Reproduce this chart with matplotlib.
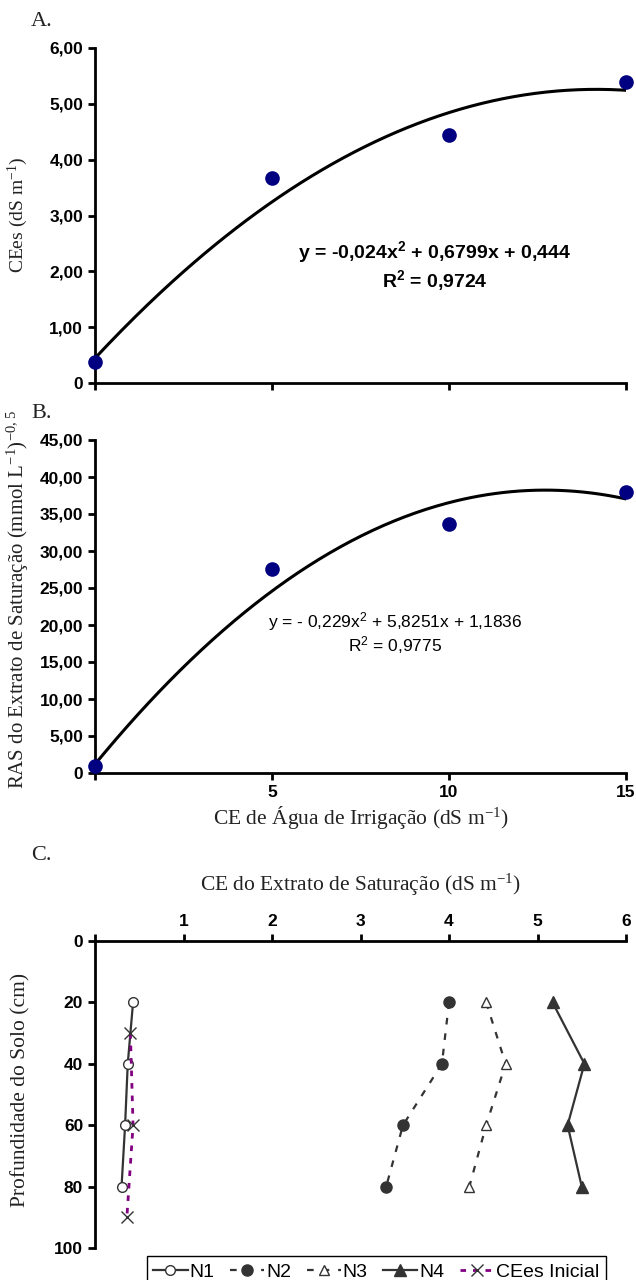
import matplotlib

matplotlib.use("Agg")
import matplotlib.pyplot as plt
import numpy as np

# panel A / B: CE of irrigation water vs soil extract values
ce_agua = [0, 5, 10, 15]
cees = [0.37, 3.68, 4.44, 5.39]
ras = [0.9, 27.6, 33.7, 38.0]
fit_cees = [-0.024, 0.6799, 0.444]
fit_ras = [-0.229, 5.8251, 1.1836]

# panel C: depth profiles
prof = [20, 40, 60, 80]
n1 = [0.43, 0.37, 0.34, 0.30]
n2 = [4.00, 3.92, 3.48, 3.29]
n3 = [4.42, 4.64, 4.42, 4.23]
n4 = [5.17, 5.53, 5.34, 5.50]
prof_ini = [30, 60, 90]
cees_ini = [0.40, 0.43, 0.36]

SANS = "Liberation Sans"
SERIF = "Liberation Serif"
W, H = 636, 1280

plt.rcParams["font.family"] = SANS
plt.rcParams["mathtext.default"] = "regular"


def px(x0, y0, x1, y1):
    return [x0 / W, 1 - y1 / H, (x1 - x0) / W, (y1 - y0) / H]


def style_axes(ax, spines):
    for s in ("left", "right", "top", "bottom"):
        ax.spines[s].set_visible(s in spines)
        ax.spines[s].set_linewidth(2.0)
    ax.tick_params(direction="out", length=5, width=2, labelsize=12.5, pad=3.5)
    for lab in ax.get_xticklabels() + ax.get_yticklabels():
        lab.set_fontweight("bold")


fig = plt.figure(figsize=(W / 100, H / 100), dpi=100)

# ---- A ----
axA = fig.add_axes(px(95, 48, 626, 383))
xs = np.linspace(0, 15, 200)
axA.plot(xs, np.polyval(fit_cees, xs), color="black", lw=2.2)
axA.plot(ce_agua, cees, "o", color="#000080", ms=9.5, clip_on=False, zorder=5)
axA.set_xlim(0, 15)
axA.set_ylim(0, 6)
axA.set_xticks([0, 5, 10, 15], labels=[])
axA.set_yticks(range(7), labels=["0", "1,00", "2,00", "3,00", "4,00", "5,00", "6,00"])
style_axes(axA, ("left", "bottom"))
axA.text(0.64, 0.39, r"y = -0,024x$^{2}$ + 0,6799x + 0,444", transform=axA.transAxes,
         ha="center", va="center", fontsize=14, fontweight="bold")
axA.text(0.64, 0.305, r"R$^{2}$ = 0,9724", transform=axA.transAxes,
         ha="center", va="center", fontsize=14, fontweight="bold")

# ---- B ----
axB = fig.add_axes(px(95, 440, 626, 773))
axB.plot(xs, np.polyval(fit_ras, xs), color="black", lw=2.2)
axB.plot(ce_agua, ras, "o", color="#000080", ms=9.5, clip_on=False, zorder=5)
axB.set_xlim(0, 15)
axB.set_ylim(0, 45)
axB.set_xticks([0, 5, 10, 15], labels=["", "5", "10", "15"])
axB.set_yticks(range(0, 50, 5),
               labels=["0"] + [f"{v},00" for v in range(5, 50, 5)])
style_axes(axB, ("left", "bottom"))
axB.text(0.565, 0.455, r"y = - 0,229x$^{2}$ + 5,8251x + 1,1836", transform=axB.transAxes,
         ha="center", va="center", fontsize=12.5)
axB.text(0.565, 0.385, r"R$^{2}$ = 0,9775", transform=axB.transAxes,
         ha="center", va="center", fontsize=12.5)
axB.set_xlabel(r"CE de Água de Irrigação (dS m$^{-1}$)", family=SERIF, fontsize=15.5,
               color="#222222", labelpad=3)

# ---- C ----
axC = fig.add_axes(px(95, 941, 626, 1248))
dark = "#333333"
axC.plot(n1, prof, "-o", color=dark, mfc="white", mec=dark, ms=7, lw=1.6, label="N1")
axC.plot(n2, prof, "o", ls=(0, (3, 4)), color=dark, ms=8, lw=1.6, label="N2")
axC.plot(n3, prof, "^", ls=(0, (3, 4)), color=dark, mfc="white", mec=dark, ms=7.5,
         lw=1.6, label="N3")
axC.plot(n4, prof, "-^", color=dark, ms=8.5, lw=1.6, label="N4")
axC.plot(cees_ini, prof_ini, "x", ls=(0, (2, 2.5)), color="#800080", mec=dark, ms=8,
         mew=1.0, lw=2.0, label="CEes Inicial")
axC.set_xlim(0, 6)
axC.set_ylim(100, 0)
axC.xaxis.tick_top()
axC.set_xticks(range(7), labels=["", "1", "2", "3", "4", "5", "6"])
axC.set_yticks(range(0, 101, 20))
style_axes(axC, ("left", "top"))
axC.set_title("CE do Extrato de Saturação (dS m$^{-1}$)", family=SERIF, fontsize=15.5,
              color="#222222", pad=36)
axC.legend(loc="upper left", bbox_to_anchor=(0.079, 0.004), ncol=5, fontsize=14,
           frameon=True, fancybox=False, edgecolor="black", framealpha=1,
           handlelength=1.75, handletextpad=0.1, columnspacing=0.8, borderpad=0.35)

# axis titles and panel letters
fig.text(18 / W, 1 - 215 / H, r"CEes (dS m$^{-1}$)", family=SERIF, fontsize=14,
         rotation=90, ha="center", va="center", color="#222222")
fig.text(18 / W, 1 - 600 / H,
         r"RAS do Extrato de Saturação (mmol L$^{-1}$)$^{-0,5}$",
         family=SERIF, fontsize=15, rotation=90, ha="center", va="center", color="#222222")
fig.text(21 / W, 1 - 1090 / H, "Profundidade do Solo (cm)", family=SERIF, fontsize=15.5,
         rotation=90, ha="center", va="center", color="#222222")
for lab, y in (("A.", 22), ("B.", 414), ("C.", 856)):
    fig.text(31 / W, 1 - y / H, lab, family=SERIF, fontsize=16, ha="left", va="center",
             color="#222222")

fig.savefig("out.png", dpi=100)
